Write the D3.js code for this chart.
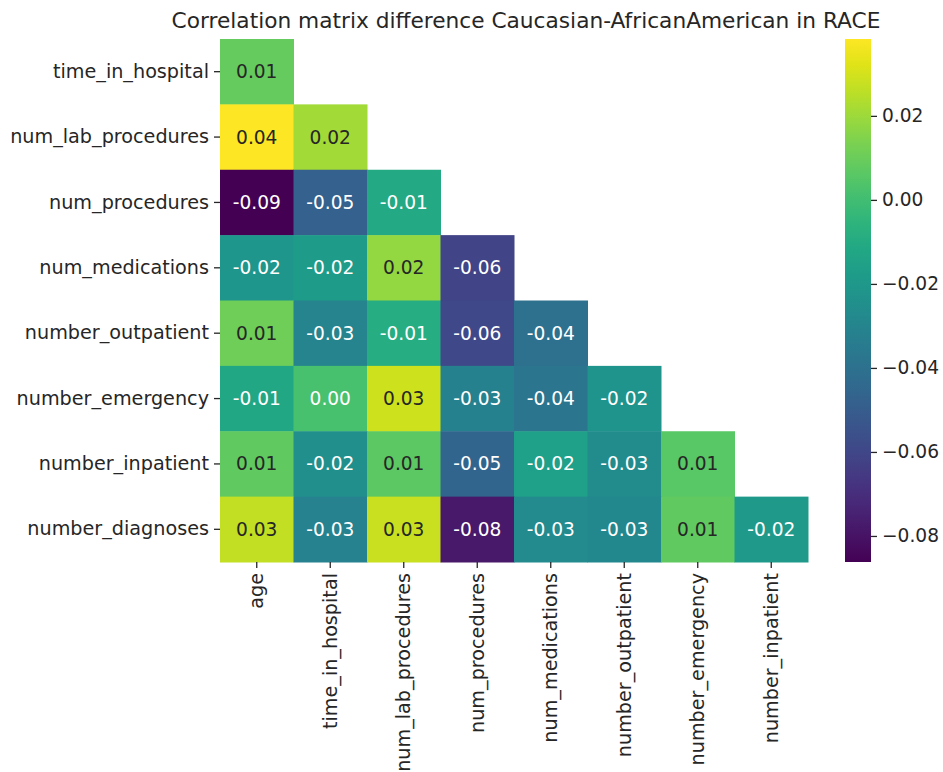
<!DOCTYPE html>
<html>
<head>
<meta charset="utf-8">
<script src="https://cdn.jsdelivr.net/npm/d3@7"></script>
<style>
  html, body { margin: 0; padding: 0; background: #fff; }
  svg { display: block; font-family: "DejaVu Sans", sans-serif; }
</style>
</head>
<body>
<svg id="chart" width="943" height="772"></svg>
<script>
// Row and column variables of the lower-triangle correlation difference matrix
const rowLabels = [
  "time_in_hospital", "num_lab_procedures", "num_procedures", "num_medications",
  "number_outpatient", "number_emergency", "number_inpatient", "number_diagnoses"
];
const colLabels = [
  "age", "time_in_hospital", "num_lab_procedures", "num_procedures",
  "num_medications", "number_outpatient", "number_emergency", "number_inpatient"
];

// Lower-triangle values, one array per row (row i has i+1 entries)
const rowTimeInHospital   = [0.009];
const rowNumLabProcedures = [0.0383, 0.021];
const rowNumProcedures    = [-0.0862, -0.048, -0.011];
const rowNumMedications   = [-0.021, -0.018, 0.018, -0.061];
const rowNumberOutpatient = [0.011, -0.030, -0.009, -0.059, -0.040];
const rowNumberEmergency  = [-0.012, 0.002, 0.029, -0.032, -0.038, -0.022];
const rowNumberInpatient  = [0.008, -0.024, 0.007, -0.046, -0.016, -0.026, 0.006];
const rowNumberDiagnoses  = [0.027, -0.031, 0.028, -0.078, -0.027, -0.028, 0.008, -0.019];

const matrixRows = [
  rowTimeInHospital, rowNumLabProcedures, rowNumProcedures, rowNumMedications,
  rowNumberOutpatient, rowNumberEmergency, rowNumberInpatient, rowNumberDiagnoses
];

const colorbarTicks = [0.02, 0.00, -0.02, -0.04, -0.06, -0.08];

const titleText = "Correlation matrix difference Caucasian-AfricanAmerican in RACE";

// Flatten into cells
const cells = [];
matrixRows.forEach((vals, r) => vals.forEach((v, c) => cells.push({ r, c, v })));

const svg = d3.select("#chart");

// Layout
const plot = { left: 220, right: 808, top: 39, bottom: 562 };
const cbar = { left: 845, right: 871 };
const fontSize = 19.2;
const annotSize = 18.6;
const textColor = "#262626";

const x = d3.scaleBand().domain(colLabels).range([plot.left, plot.right]);
const y = d3.scaleBand().domain(rowLabels).range([plot.top, plot.bottom]);

const [vmin, vmax] = d3.extent(cells, d => d.v);
const color = d3.scaleSequential(d3.interpolateViridis).domain([vmin, vmax]);

// Relative luminance decides dark or white annotation text
function luminance(c) {
  const rgb = d3.rgb(c);
  const lin = [rgb.r, rgb.g, rgb.b].map(u => {
    u /= 255;
    return u <= 0.03928 ? u / 12.92 : Math.pow((u + 0.055) / 1.055, 2.4);
  });
  return 0.2126 * lin[0] + 0.7152 * lin[1] + 0.0722 * lin[2];
}

// Heatmap cells
svg.append("g")
  .selectAll("rect")
  .data(cells)
  .join("rect")
  .attr("x", d => x(colLabels[d.c]))
  .attr("y", d => y(rowLabels[d.r]))
  .attr("width", x.bandwidth() + 0.5)
  .attr("height", y.bandwidth() + 0.5)
  .attr("fill", d => color(d.v));

// Cell annotations
svg.append("g")
  .selectAll("text")
  .data(cells)
  .join("text")
  .attr("x", d => x(colLabels[d.c]) + x.bandwidth() / 2)
  .attr("y", d => y(rowLabels[d.r]) + y.bandwidth() / 2)
  .attr("text-anchor", "middle")
  .attr("dominant-baseline", "central")
  .attr("font-size", annotSize)
  .attr("fill", d => luminance(color(d.v)) > 0.408 ? textColor : "#ffffff")
  .text(d => d.v.toFixed(2));

// Y axis (row labels)
const yAxis = svg.append("g")
  .attr("transform", `translate(${plot.left},0)`)
  .call(d3.axisLeft(y).tickSize(6).tickPadding(5));
yAxis.select(".domain").remove();
yAxis.selectAll(".tick line").attr("stroke", textColor).attr("stroke-width", 1.3);
yAxis.selectAll(".tick text")
  .attr("font-size", fontSize)
  .attr("font-family", "DejaVu Sans")
  .attr("fill", textColor);

// X axis (column labels, rotated)
const xAxis = svg.append("g")
  .attr("transform", `translate(0,${plot.bottom})`)
  .call(d3.axisBottom(x).tickSize(6).tickPadding(5));
xAxis.select(".domain").remove();
xAxis.selectAll(".tick line").attr("stroke", textColor).attr("stroke-width", 1.3);
xAxis.selectAll(".tick text")
  .attr("font-size", fontSize)
  .attr("font-family", "DejaVu Sans")
  .attr("fill", textColor)
  .attr("text-anchor", "end")
  .attr("dy", "0.35em")
  .attr("transform", "translate(0,11) rotate(-90)")
  .attr("x", 0)
  .attr("y", 0);

// Colorbar
const defs = svg.append("defs");
const grad = defs.append("linearGradient")
  .attr("id", "viridisGrad")
  .attr("x1", "0%").attr("y1", "100%")
  .attr("x2", "0%").attr("y2", "0%");
d3.range(0, 1.0001, 0.05).forEach(t => {
  grad.append("stop")
    .attr("offset", `${t * 100}%`)
    .attr("stop-color", d3.interpolateViridis(t));
});

svg.append("rect")
  .attr("x", cbar.left)
  .attr("y", plot.top)
  .attr("width", cbar.right - cbar.left)
  .attr("height", plot.bottom - plot.top)
  .attr("fill", "url(#viridisGrad)");

const cbScale = d3.scaleLinear().domain([vmin, vmax]).range([plot.bottom, plot.top]);
const cbAxis = svg.append("g")
  .attr("transform", `translate(${cbar.right},0)`)
  .call(d3.axisRight(cbScale).tickValues(colorbarTicks).tickFormat(d3.format(".2f")).tickSize(6).tickPadding(5));
cbAxis.select(".domain").remove();
cbAxis.selectAll(".tick line").attr("stroke", textColor).attr("stroke-width", 1.3);
cbAxis.selectAll(".tick text")
  .attr("font-size", annotSize)
  .attr("font-family", "DejaVu Sans")
  .attr("fill", textColor);

// Title
svg.append("text")
  .attr("x", 526)
  .attr("y", 28)
  .attr("text-anchor", "middle")
  .attr("font-size", 21.7)
  .attr("fill", textColor)
  .text(titleText);
</script>
</body>
</html>
